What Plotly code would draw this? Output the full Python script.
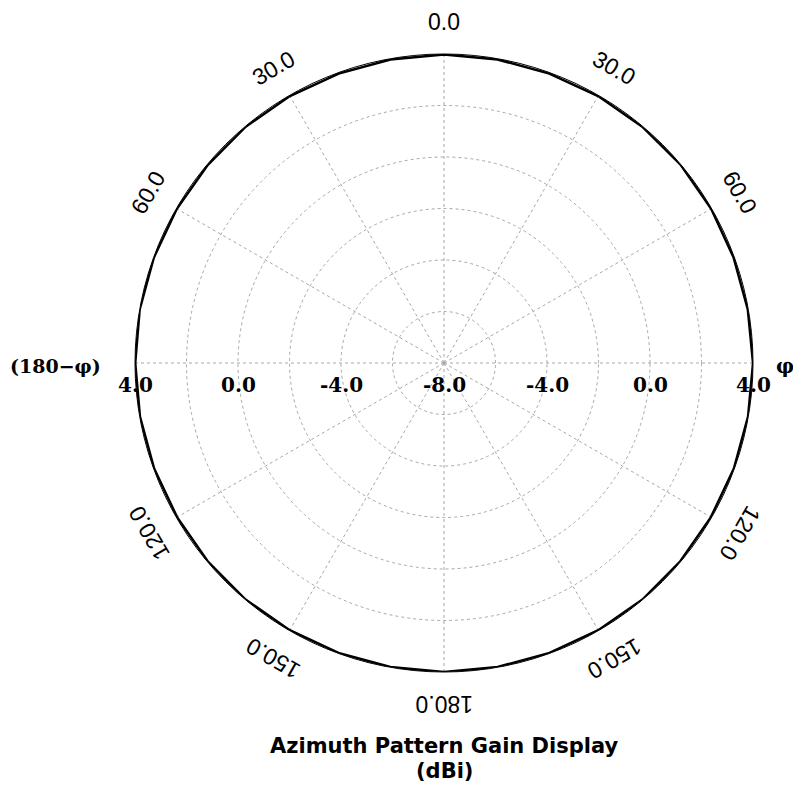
import math
import plotly.graph_objects as go

# ---- data ----
azimuth_deg = list(range(0, 361, 10))
gain_dbi = [3.98, 3.97, 3.96, 3.97, 3.98, 3.99, 3.98, 3.97, 3.98, 4.0,
            3.99, 3.98, 3.97, 3.98, 3.99, 3.98, 3.98, 3.99, 4.0,
            3.99, 3.98, 3.98, 3.99, 3.98, 3.97, 3.98, 3.99, 3.99, 4.0,
            3.99, 3.98, 3.97, 3.98, 3.97, 3.96, 3.97, 3.98]
radial_range = [-8, 4]
ring_vals = [-6, -4, -2, 0, 2, 4]
radial_label_vals = [4.0, 0.0, -4.0, -8.0]
angle_label_vals = [0, 30, 60, 120, 150, 180, 210, 240, 300, 330]
angle_label_text = ["0.0", "30.0", "60.0", "120.0", "150.0", "180.0",
                    "150.0", "120.0", "60.0", "30.0"]
title_lines = ["Azimuth Pattern Gain Display", "(dBi)"]
left_axis_text = "(180\u2212\u03c6)"
right_axis_text = "\u03c6"

W, H = 793, 799
cx, cy, R = 444, 363, 309  # polar centre / radius in px

fig = go.Figure()
fig.add_trace(go.Scatterpolar(
    r=gain_dbi, theta=azimuth_deg, mode="lines",
    line=dict(color="black", width=2.5), showlegend=False,
))

fig.update_layout(
    width=W, height=H,
    margin=dict(l=0, r=0, t=0, b=0),
    paper_bgcolor="white",
    polar=dict(
        domain=dict(x=[(cx - R) / W, (cx + R) / W],
                    y=[1 - (cy + R) / H, 1 - (cy - R) / H]),
        bgcolor="white",
        radialaxis=dict(range=radial_range, tickvals=ring_vals,
                        showticklabels=False, ticks="", showline=False,
                        gridcolor="#a8a8a8", griddash="dot", gridwidth=1),
        angularaxis=dict(rotation=90, direction="clockwise", dtick=30,
                         showticklabels=False, ticks="",
                         gridcolor="#a8a8a8", griddash="dot", gridwidth=1,
                         linecolor="black", linewidth=1),
    ),
)

def to_paper(px, py):
    return px / W, 1 - py / H

serif = "DejaVu Serif"
ann = []
# radial value labels along the horizontal axis
for v in radial_label_vals:
    d = (v - radial_range[0]) / (radial_range[1] - radial_range[0]) * R
    xs = [cx] if d == 0 else [cx - d, cx + d]
    for xpx in xs:
        x, y = to_paper(xpx, cy + 22)
        ann.append(dict(x=x, y=y, xref="paper", yref="paper", text=f"<b>{v:.1f}</b>",
                        showarrow=False, xanchor="center", yanchor="middle",
                        font=dict(family=serif, size=20, color="black")))

# angular labels rotated tangentially
RL = R + 32
for a, t in zip(angle_label_vals, angle_label_text):
    rad = math.radians(a)
    xpx = cx + RL * math.sin(rad)
    ypx = cy - RL * math.cos(rad)
    x, y = to_paper(xpx, ypx)
    ang = a if a <= 180 else a - 360
    ann.append(dict(x=x, y=y, xref="paper", yref="paper", text=t,
                    showarrow=False, xanchor="center", yanchor="middle",
                    textangle=ang,
                    font=dict(family="Liberation Sans", size=23, color="black")))

x, y = to_paper(55, cy + 3)
ann.append(dict(x=x, y=y, xref="paper", yref="paper", text=f"<b>{left_axis_text}</b>",
                showarrow=False, xanchor="center", yanchor="middle",
                font=dict(family=serif, size=19, color="black")))
x, y = to_paper(785, cy + 3)
ann.append(dict(x=x, y=y, xref="paper", yref="paper", text=f"<b>{right_axis_text}</b>",
                showarrow=False, xanchor="center", yanchor="middle",
                font=dict(family=serif, size=20, color="black")))

for i, line in enumerate(title_lines):
    x, y = to_paper(cx, 746 + i * 25)
    ann.append(dict(x=x, y=y, xref="paper", yref="paper", text=f"<b>{line}</b>",
                    showarrow=False, xanchor="center", yanchor="middle",
                    font=dict(family="DejaVu Sans", size=21, color="black")))

fig.update_layout(annotations=ann)
fig.write_html("out.html")
